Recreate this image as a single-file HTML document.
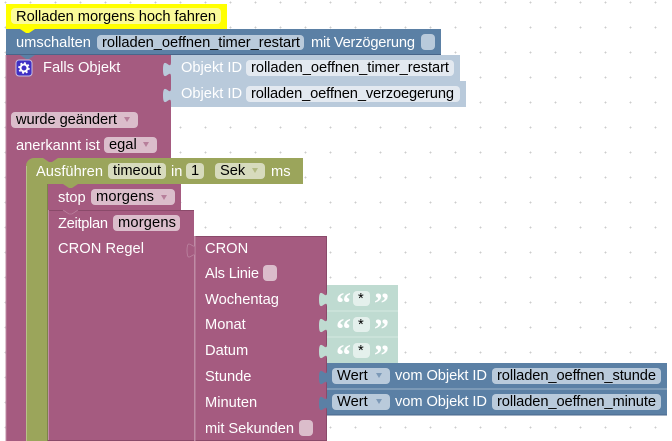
<!DOCTYPE html>
<html><head><meta charset="utf-8"><style>
html,body{margin:0;padding:0;background:#fff;width:672px;height:441px;overflow:hidden}
svg{display:block}
text{font-family:"Liberation Sans",sans-serif;font-size:14.67px;fill:#fff}
text.k{fill:#000}
text.q{font-family:"Liberation Serif",serif;font-size:30px;font-weight:bold}
</style></head><body>
<svg width="672" height="441" viewBox="0 0 672 441" xmlns="http://www.w3.org/2000/svg">
<defs><pattern id="g" x="3" y="0" width="25" height="25" patternUnits="userSpaceOnUse">
<rect x="1.500" y="2" width="2" height="1" fill="#ccc"/><rect x="2" y="1.500" width="1" height="2" fill="#ccc"/></pattern></defs>
<rect width="672" height="441" fill="url(#g)"/>

<!-- purple falls block -->
<rect x="6" y="55" width="165" height="386" fill="#a55b80"/>
<rect x="5.500" y="55" width="1" height="386" fill="#c08ca6"/>

<!-- objekt id -->
<rect x="171" y="55" width="289" height="26" fill="#b9cadb"/>
<rect x="171" y="81" width="295" height="26" fill="#b9cadb"/>
<path d="M171 62c0 10-8-8-8 7.500s8-2.500 8 7.500zM171 88c0 10-8-8-8 7.500s8-2.500 8 7.500z" fill="#b9cadb"/>
<text x="181" y="72">Objekt ID</text>
<rect x="246" y="60" width="208" height="16" rx="4" fill="#e3e9f0"/>
<text class="k" x="251" y="72" textLength="198">rolladen_oeffnen_timer_restart</text>
<text x="181" y="98">Objekt ID</text>
<rect x="246" y="86" width="214" height="16" rx="4" fill="#e3e9f0"/>
<text class="k" x="251" y="98" textLength="203">rolladen_oeffnen_verzoegerung</text>

<!-- gear icon -->
<rect x="16" y="60" width="16" height="16" rx="3" fill="#3f2fc4" stroke="#c9bfe0" stroke-width="1"/>
<circle cx="24" cy="68" r="3.500" fill="none" stroke="#fff" stroke-width="2"/>
<circle cx="24" cy="68" r="5" fill="none" stroke="#fff" stroke-width="1.500" stroke-dasharray="2 1.900"/>
<text x="43" y="72">Falls Objekt</text>

<rect x="11" y="112" width="127" height="16" rx="4" fill="#dbbdcb"/>
<text class="k" x="16" y="124" textLength="101">wurde geändert</text>
<path d="M124 117h6l-3 5z" fill="#b77f9b"/>
<text x="16" y="150">anerkannt ist</text>
<rect x="104" y="137" width="53" height="16" rx="4" fill="#dbbdcb"/>
<text class="k" x="109" y="149">egal</text>
<path d="M143 142h6l-3 5z" fill="#b77f9b"/>

<!-- olive -->
<path d="M26 441V166a8 8 0 0 1 8-8H303V184H48V441z" fill="#9ba55b"/>
<rect x="26" y="166" width="1" height="275" fill="#b9c08a"/>
<rect x="47" y="184" width="1" height="257" fill="#7c8449"/>
<path d="M43 158l6 4h3l6-4z" fill="#a55b80"/>
<text x="36" y="176" textLength="67">Ausführen</text>
<rect x="108" y="163" width="58" height="16" rx="4" fill="#d7dbbd"/>
<text class="k" x="113" y="175">timeout</text>
<text x="171" y="176">in</text>
<rect x="186" y="163" width="18" height="16" rx="4" fill="#d7dbbd"/>
<text class="k" x="191" y="175">1</text>
<rect x="215" y="163" width="50" height="16" rx="4" fill="#d7dbbd"/>
<text class="k" x="220" y="175">Sek</text>
<path d="M252 168h6l-3 5z" fill="#b3bb83"/>
<text x="271" y="176">ms</text>

<!-- stop -->
<path d="M48 192a8 8 0 0 1 8-8H181V210H48z" fill="#a55b80"/>
<path d="M63 184l6 4h3l6-4z" fill="#9ba55b"/>
<text x="58" y="202">stop</text>
<rect x="91" y="189" width="84" height="16" rx="4" fill="#dbbdcb"/>
<text class="k" x="96" y="201" textLength="58">morgens</text>
<path d="M161 195h6l-3 5z" fill="#b77f9b"/>

<!-- zeitplan -->
<rect x="48" y="210" width="146" height="231" fill="#a55b80"/>
<rect x="48" y="210" width="146" height="1" fill="#8a4a6a"/>
<rect x="48" y="210" width="1" height="231" fill="#c08ca6"/>
<path d="M63 210l6 4h3l6-4z" fill="#a55b80"/>
<path d="M63 210l6 4h3l6-4" fill="none" stroke="#c08ca6" stroke-width=".6"/>
<text x="58" y="228" textLength="50">Zeitplan</text>
<rect x="113" y="215" width="67" height="16" rx="4" fill="#dbbdcb"/>
<text class="k" x="118" y="227" textLength="58">morgens</text>
<text x="58" y="253" textLength="86">CRON Regel</text>

<!-- cron -->
<rect x="195" y="236" width="131" height="204" fill="#a55b80"/>
<rect x="195" y="236" width="131" height="1" fill="#8a4a6a"/>
<rect x="326" y="236" width="1" height="204" fill="#8a4a6a"/>
<rect x="48" y="440" width="279" height="1" fill="#8a4a6a"/>
<rect x="194" y="236" width="1.500" height="205" fill="#c08ca6"/>
<path d="M195 243c0 10-8-8-8 7.500s8-2.500 8 7.500z" fill="#a55b80" stroke="#c08ca6" stroke-width=".7"/>
<text x="205" y="253">CRON</text>
<text x="205" y="278" textLength="54">Als Linie</text>
<rect x="263" y="265" width="14" height="16" rx="4" fill="#dbbdcb"/>
<text x="205" y="304">Wochentag</text>
<text x="205" y="329">Monat</text>
<text x="205" y="355">Datum</text>
<text x="205" y="381">Stunde</text>
<text x="205" y="407">Minuten</text>
<text x="205" y="433" textLength="89">mit Sekunden</text>
<rect x="299" y="420" width="14" height="16" rx="4" fill="#dbbdcb"/>

<!-- strings -->
<rect x="327" y="285" width="71" height="78" fill="#bfdbd1"/>
<path d="M327 311h71M327 337h71" stroke="#d5e8e1" stroke-width="1"/>
<path d="M327 292c0 10-8-8-8 7.500s8-2.500 8 7.500zM327 318c0 10-8-8-8 7.500s8-2.500 8 7.500zM327 344c0 10-8-8-8 7.500s8-2.500 8 7.500z" fill="#bfdbd1"/>
<text class="q" x="336" y="313">“</text>
<text class="q" x="374" y="313">”</text>
<text class="q" x="336" y="339">“</text>
<text class="q" x="374" y="339">”</text>
<text class="q" x="336" y="365">“</text>
<text class="q" x="374" y="365">”</text>
<rect x="353" y="291" width="17" height="15" rx="4" fill="#e4f0ec"/>
<rect x="353" y="317" width="17" height="15" rx="4" fill="#e4f0ec"/>
<rect x="353" y="343" width="17" height="15" rx="4" fill="#e4f0ec"/>
<text class="k" x="358" y="303">*</text>
<text class="k" x="358" y="329">*</text>
<text class="k" x="358" y="355">*</text>

<!-- wert blocks -->
<rect x="327" y="363" width="340" height="26" fill="#5b80a5"/>
<rect x="327" y="389" width="340" height="26" fill="#5b80a5"/>
<rect x="327" y="388.500" width="340" height="1" fill="#9db3c9"/>
<rect x="327" y="414.500" width="340" height="1" fill="#48668a"/>
<path d="M327 370c0 10-8-8-8 7.500s8-2.500 8 7.500zM327 396c0 10-8-8-8 7.500s8-2.500 8 7.500z" fill="#5b80a5"/>
<rect x="332" y="368" width="58" height="16" rx="4" fill="#b9cadb"/>
<text class="k" x="337" y="380">Wert</text>
<path d="M376 373h6l-3 5z" fill="#7c99b7"/>
<text x="395" y="380" textLength="92">vom Objekt ID</text>
<rect x="492" y="368" width="169" height="16" rx="4" fill="#b9cadb"/>
<text class="k" x="497" y="380" textLength="159">rolladen_oeffnen_stunde</text>
<rect x="332" y="394" width="58" height="16" rx="4" fill="#b9cadb"/>
<text class="k" x="337" y="406">Wert</text>
<path d="M376 399h6l-3 5z" fill="#7c99b7"/>
<text x="395" y="406" textLength="92">vom Objekt ID</text>
<rect x="492" y="394" width="169" height="16" rx="4" fill="#b9cadb"/>
<text class="k" x="497" y="406" textLength="159">rolladen_oeffnen_minute</text>

<!-- umschalten -->
<rect x="6" y="29" width="435" height="26" fill="#5b80a5"/>
<rect x="6" y="54" width="435" height="1" fill="#48668a"/>
<path d="M20 55l6 4h3l6-4z" fill="#5b80a5"/>
<text x="16" y="47">umschalten</text>
<rect x="97" y="35" width="207" height="15" rx="4" fill="#b9cadb"/>
<text class="k" x="102" y="47" textLength="198">rolladen_oeffnen_timer_restart</text>
<text x="311" y="47" textLength="104">mit Verzögerung</text>
<rect x="421" y="34" width="14" height="16" rx="4" fill="#b9cadb"/>

<!-- comment -->
<rect x="6" y="4" width="221" height="25" fill="#ff0"/>
<path d="M20 29l6 4h3l6-4z" fill="#ff0"/>
<rect x="11" y="8" width="210" height="16" rx="4" fill="#fbfb99"/>
<text class="k" x="16" y="21" textLength="200">Rolladen morgens hoch fahren</text>
</svg>
</body></html>
